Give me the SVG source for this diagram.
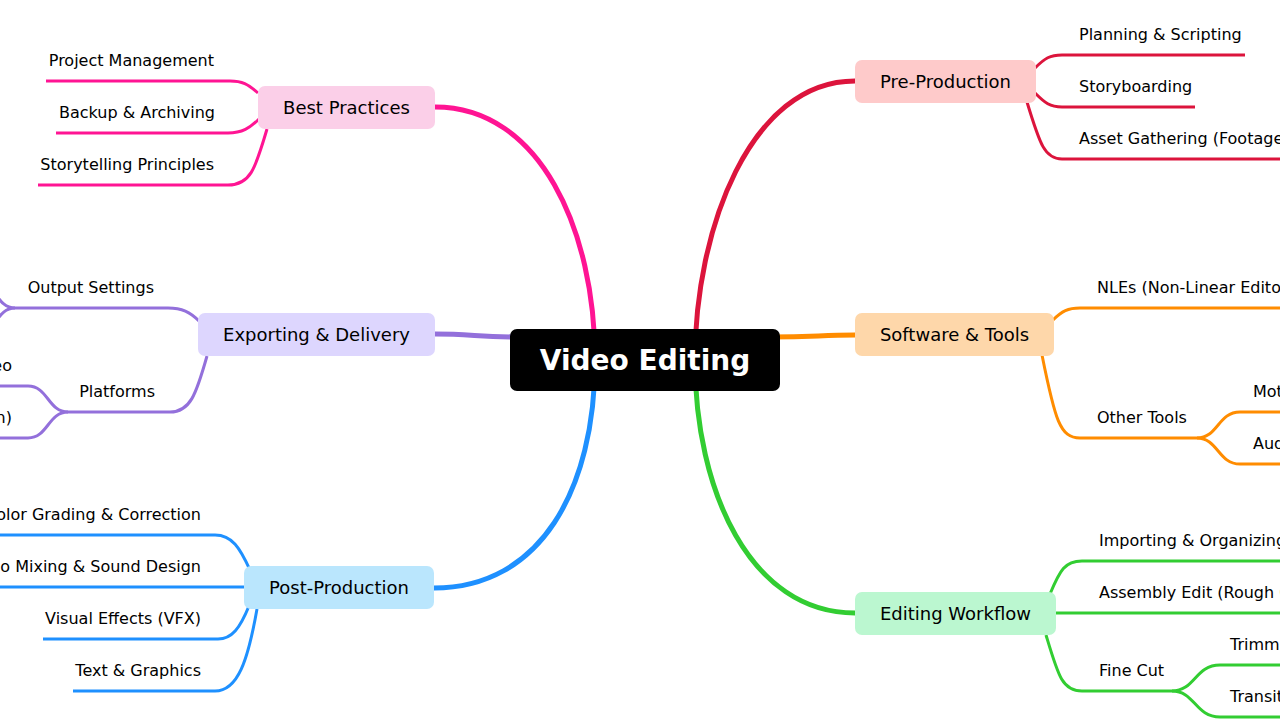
<svg xmlns="http://www.w3.org/2000/svg" width="1280" height="720" viewBox="0 0 1280 720">
<style>
text{font-family:"DejaVu Sans","Liberation Sans",sans-serif;fill:#000}
.leaf{font-size:16px}
.node{font-size:18px;text-anchor:middle}
.r{text-anchor:end}
.main{fill:none;stroke-width:5;stroke-linecap:round}
.sub{fill:none;stroke-width:3}
.pink{stroke:#ff1493}.red{stroke:#dc143c}.purple{stroke:#9370db}.orange{stroke:#ff8c00}.blue{stroke:#1e90ff}.green{stroke:#32cd32}
</style>
<rect width="1280" height="720" fill="#fff"/>
<g id="connectors">
<path class="main pink" d="M435,107 C540,107 595,230 595,360"/>
<path class="main red" d="M855,81 C750,81 695,230 695,360"/>
<path class="main blue" d="M434,588 C540,588 595,490 595,360"/>
<path class="main green" d="M855,613 C750,613 695,490 695,360"/>
<path class="main purple" d="M435,334 C470,334 480,337 520,337"/>
<path class="main orange" d="M770,337 C815,337 820,335 855,335"/>

<path class="sub pink" d="M258,93 C248,84 242,81 230,81 L46,81"/>
<path class="sub pink" d="M259,119 C250,128 242,133 228,133 L56,133"/>
<path class="sub pink" d="M267,129 C255,170 250,185 228,185 L38,185"/>

<path class="sub red" d="M1035,68 C1045,58 1050,55 1062,55 L1245,55"/>
<path class="sub red" d="M1035,93 C1045,103 1050,107 1062,107 L1195,107"/>
<path class="sub red" d="M1027,102 C1040,145 1045,159 1062,159 L1290,159"/>

<path class="sub orange" d="M1053,320 C1062,311 1068,308 1080,308 L1290,308"/>
<path class="sub orange" d="M1042,355 C1055,420 1060,438 1080,438 L1197,438"/>
<path class="sub orange" d="M1197,438 C1218,438 1218,412 1240,412 L1290,412"/>
<path class="sub orange" d="M1197,438 C1218,438 1218,464 1240,464 L1290,464"/>

<path class="sub green" d="M1050,594 C1060,570 1065,561 1082,561 L1290,561"/>
<path class="sub green" d="M1056,613 L1290,613"/>
<path class="sub green" d="M1046,635 C1058,675 1062,691 1082,691 L1172,691"/>
<path class="sub green" d="M1172,691 C1195,691 1195,665 1220,665 L1290,665"/>
<path class="sub green" d="M1172,691 C1195,691 1195,717 1220,717 L1290,717"/>

<path class="sub blue" d="M250,570 C240,548 232,535 215,535 L-10,535"/>
<path class="sub blue" d="M244,587 L-10,587"/>
<path class="sub blue" d="M249,606 C240,628 232,639 218,639 L43,639"/>
<path class="sub blue" d="M257,609 C248,660 238,691 215,691 L73,691"/>

<path class="sub purple" d="M199,321 C190,312 182,308 168,308 L15,308"/>
<path class="sub purple" d="M15,308 C-4,308 -4,282 -23,282"/>
<path class="sub purple" d="M15,308 C-4,308 -4,334 -23,334"/>
<path class="sub purple" d="M207,356 C196,395 190,412 170,412 L68,412"/>
<path class="sub purple" d="M68,412 C48,412 48,386 28,386 L-10,386"/>
<path class="sub purple" d="M68,412 C48,412 48,438 28,438 L-10,438"/>
</g>

<g id="root">
<rect x="510" y="329" width="270" height="62" rx="7" fill="#000"/>
<text x="645" y="370" text-anchor="middle" font-size="28" font-weight="bold" style="fill:#fff">Video Editing</text>
</g>

<g id="best-practices">
<rect x="258" y="86" width="177" height="43" rx="7" fill="#fbcfe8"/>
<text class="node" x="346.5" y="114">Best Practices</text>
</g>
<g id="pre-production">
<rect x="855" y="60" width="181" height="43" rx="7" fill="#fecaca"/>
<text class="node" x="945.5" y="88">Pre-Production</text>
</g>
<g id="exporting">
<rect x="198" y="313" width="237" height="43" rx="7" fill="#ddd6fe"/>
<text class="node" x="316.5" y="341">Exporting &amp; Delivery</text>
</g>
<g id="software">
<rect x="855" y="313" width="199" height="43" rx="7" fill="#fed7aa"/>
<text class="node" x="954.5" y="341">Software &amp; Tools</text>
</g>
<g id="post-production">
<rect x="244" y="566" width="190" height="43" rx="7" fill="#bae6fd"/>
<text class="node" x="339" y="594">Post-Production</text>
</g>
<g id="editing-workflow">
<rect x="855" y="592" width="201" height="43" rx="7" fill="#bbf7d0"/>
<text class="node" x="955.5" y="620">Editing Workflow</text>
</g>

<g id="bp-children">
<text class="leaf r" x="214" y="66">Project Management</text>
<text class="leaf r" x="215" y="118">Backup &amp; Archiving</text>
<text class="leaf r" x="214" y="170">Storytelling Principles</text>
</g>
<g id="pp-children">
<text class="leaf" x="1079" y="40">Planning &amp; Scripting</text>
<text class="leaf" x="1079" y="92">Storyboarding</text>
<text class="leaf" x="1079" y="144">Asset Gathering (Footage</text>
</g>
<g id="sw-children">
<text class="leaf" x="1097" y="293">NLEs (Non-Linear Editors)</text>
<text class="leaf" x="1097" y="423">Other Tools</text>
<text class="leaf" x="1253" y="397">Motion Graphics</text>
<text class="leaf" x="1253" y="449">Audio Editing</text>
</g>
<g id="ew-children">
<text class="leaf" x="1099" y="546">Importing &amp; Organizing</text>
<text class="leaf" x="1099" y="598">Assembly Edit (Rough Cut)</text>
<text class="leaf" x="1099" y="676">Fine Cut</text>
<text class="leaf" x="1230" y="650">Trimming</text>
<text class="leaf" x="1230" y="702">Transitions</text>
</g>
<g id="post-children">
<text class="leaf r" x="201" y="520">Color Grading &amp; Correction</text>
<text class="leaf r" x="201" y="572">Audio Mixing &amp; Sound Design</text>
<text class="leaf r" x="201" y="624">Visual Effects (VFX)</text>
<text class="leaf r" x="201" y="676">Text &amp; Graphics</text>
</g>
<g id="export-children">
<text class="leaf r" x="154" y="293">Output Settings</text>
<text class="leaf r" x="155" y="397">Platforms</text>
<text class="leaf r" x="12" y="371">Vimeo</text>
<text class="leaf r" x="12" y="423">n)</text>
</g>
</svg>
